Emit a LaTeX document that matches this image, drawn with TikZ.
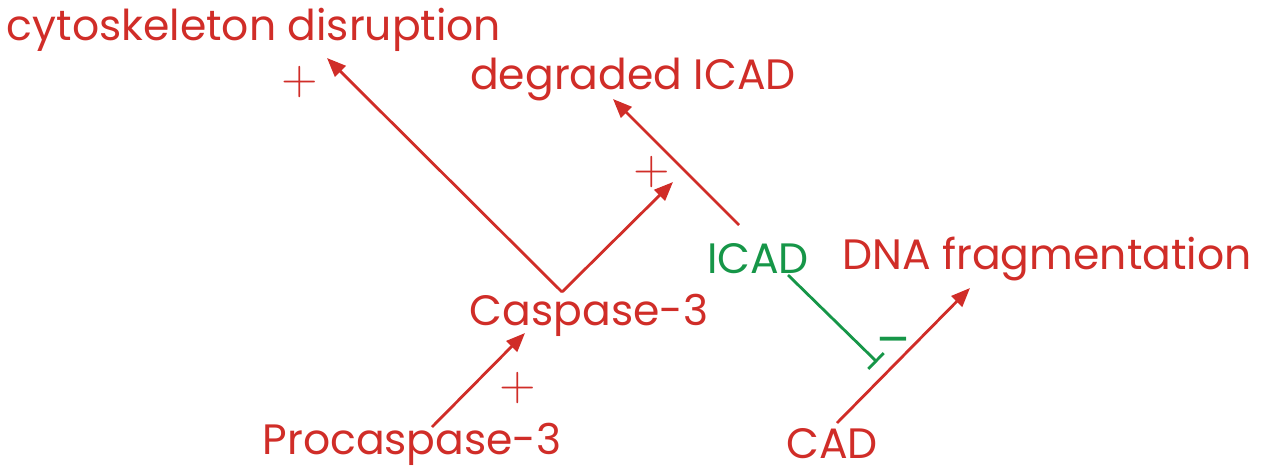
\documentclass[tikz,border=0pt]{standalone}
\usepackage{fontspec}
\setmainfont{Poppins}
\usetikzlibrary{arrows.meta}
\definecolor{cred}{RGB}{208,45,40}
\definecolor{cgreen}{RGB}{22,150,72}
\begin{document}
\begin{tikzpicture}[x=1pt,y=-1pt,
  lbl/.style={inner sep=0pt,font=\fontsize{42.5}{50}\selectfont},
  sign/.style={inner sep=0pt,font=\sffamily\fontsize{50}{56}\selectfont},
  minus/.style={inner sep=0pt,font=\fontsize{50}{56}\selectfont},
  act/.style={cred,line width=2.8pt,-{Triangle[length=19pt,width=15pt]}},
  inh/.style={cgreen,line width=2.8pt,-{Bar[width=22pt]}}]
\useasboundingbox (0,0) rectangle (1262,475);
\node[lbl,cred] (cyto) at (254,30) {cytoskeleton disruption};
\node[lbl,cred] (deg) at (633,80) {degraded ICAD};
\node[lbl,cgreen] (icad) at (758,259) {ICAD};
\node[lbl,cred] (dna) at (1047,259) {DNA fragmentation};
\node[lbl,cred] (casp) at (589,315) {Caspase-3};
\node[lbl,cred] (pro) at (412,444) {Procaspase-3};
\node[lbl,cred] (cad) at (832,444) {CAD};
\coordinate (v) at (562,292);
\coordinate (t1) at (327,58);
\coordinate (t2) at (673,182);
\coordinate (is) at (739,225);
\coordinate (t3) at (613,99);
\coordinate (ps) at (432,427);
\coordinate (t4) at (525,333);
\coordinate (cs) at (837,423);
\coordinate (t5) at (970,288);
\coordinate (gs) at (788,275);
\coordinate (ge) at (877,362);
\draw[act] (v) -- (t1);
\draw[act] (v) -- (t2);
\draw[act] (is) -- (t3);
\draw[act] (ps) -- (t4);
\draw[act] (cs) -- (t5);
\draw[inh] (gs) -- (ge);
\node[sign,cred] (p1) at (300,82) {+};
\node[sign,cred] (p2) at (652,172) {+};
\node[sign,cred] (p3) at (518,388) {+};
\node[minus,cgreen] (m1) at (893,347) {–};
\end{tikzpicture}
\end{document}
